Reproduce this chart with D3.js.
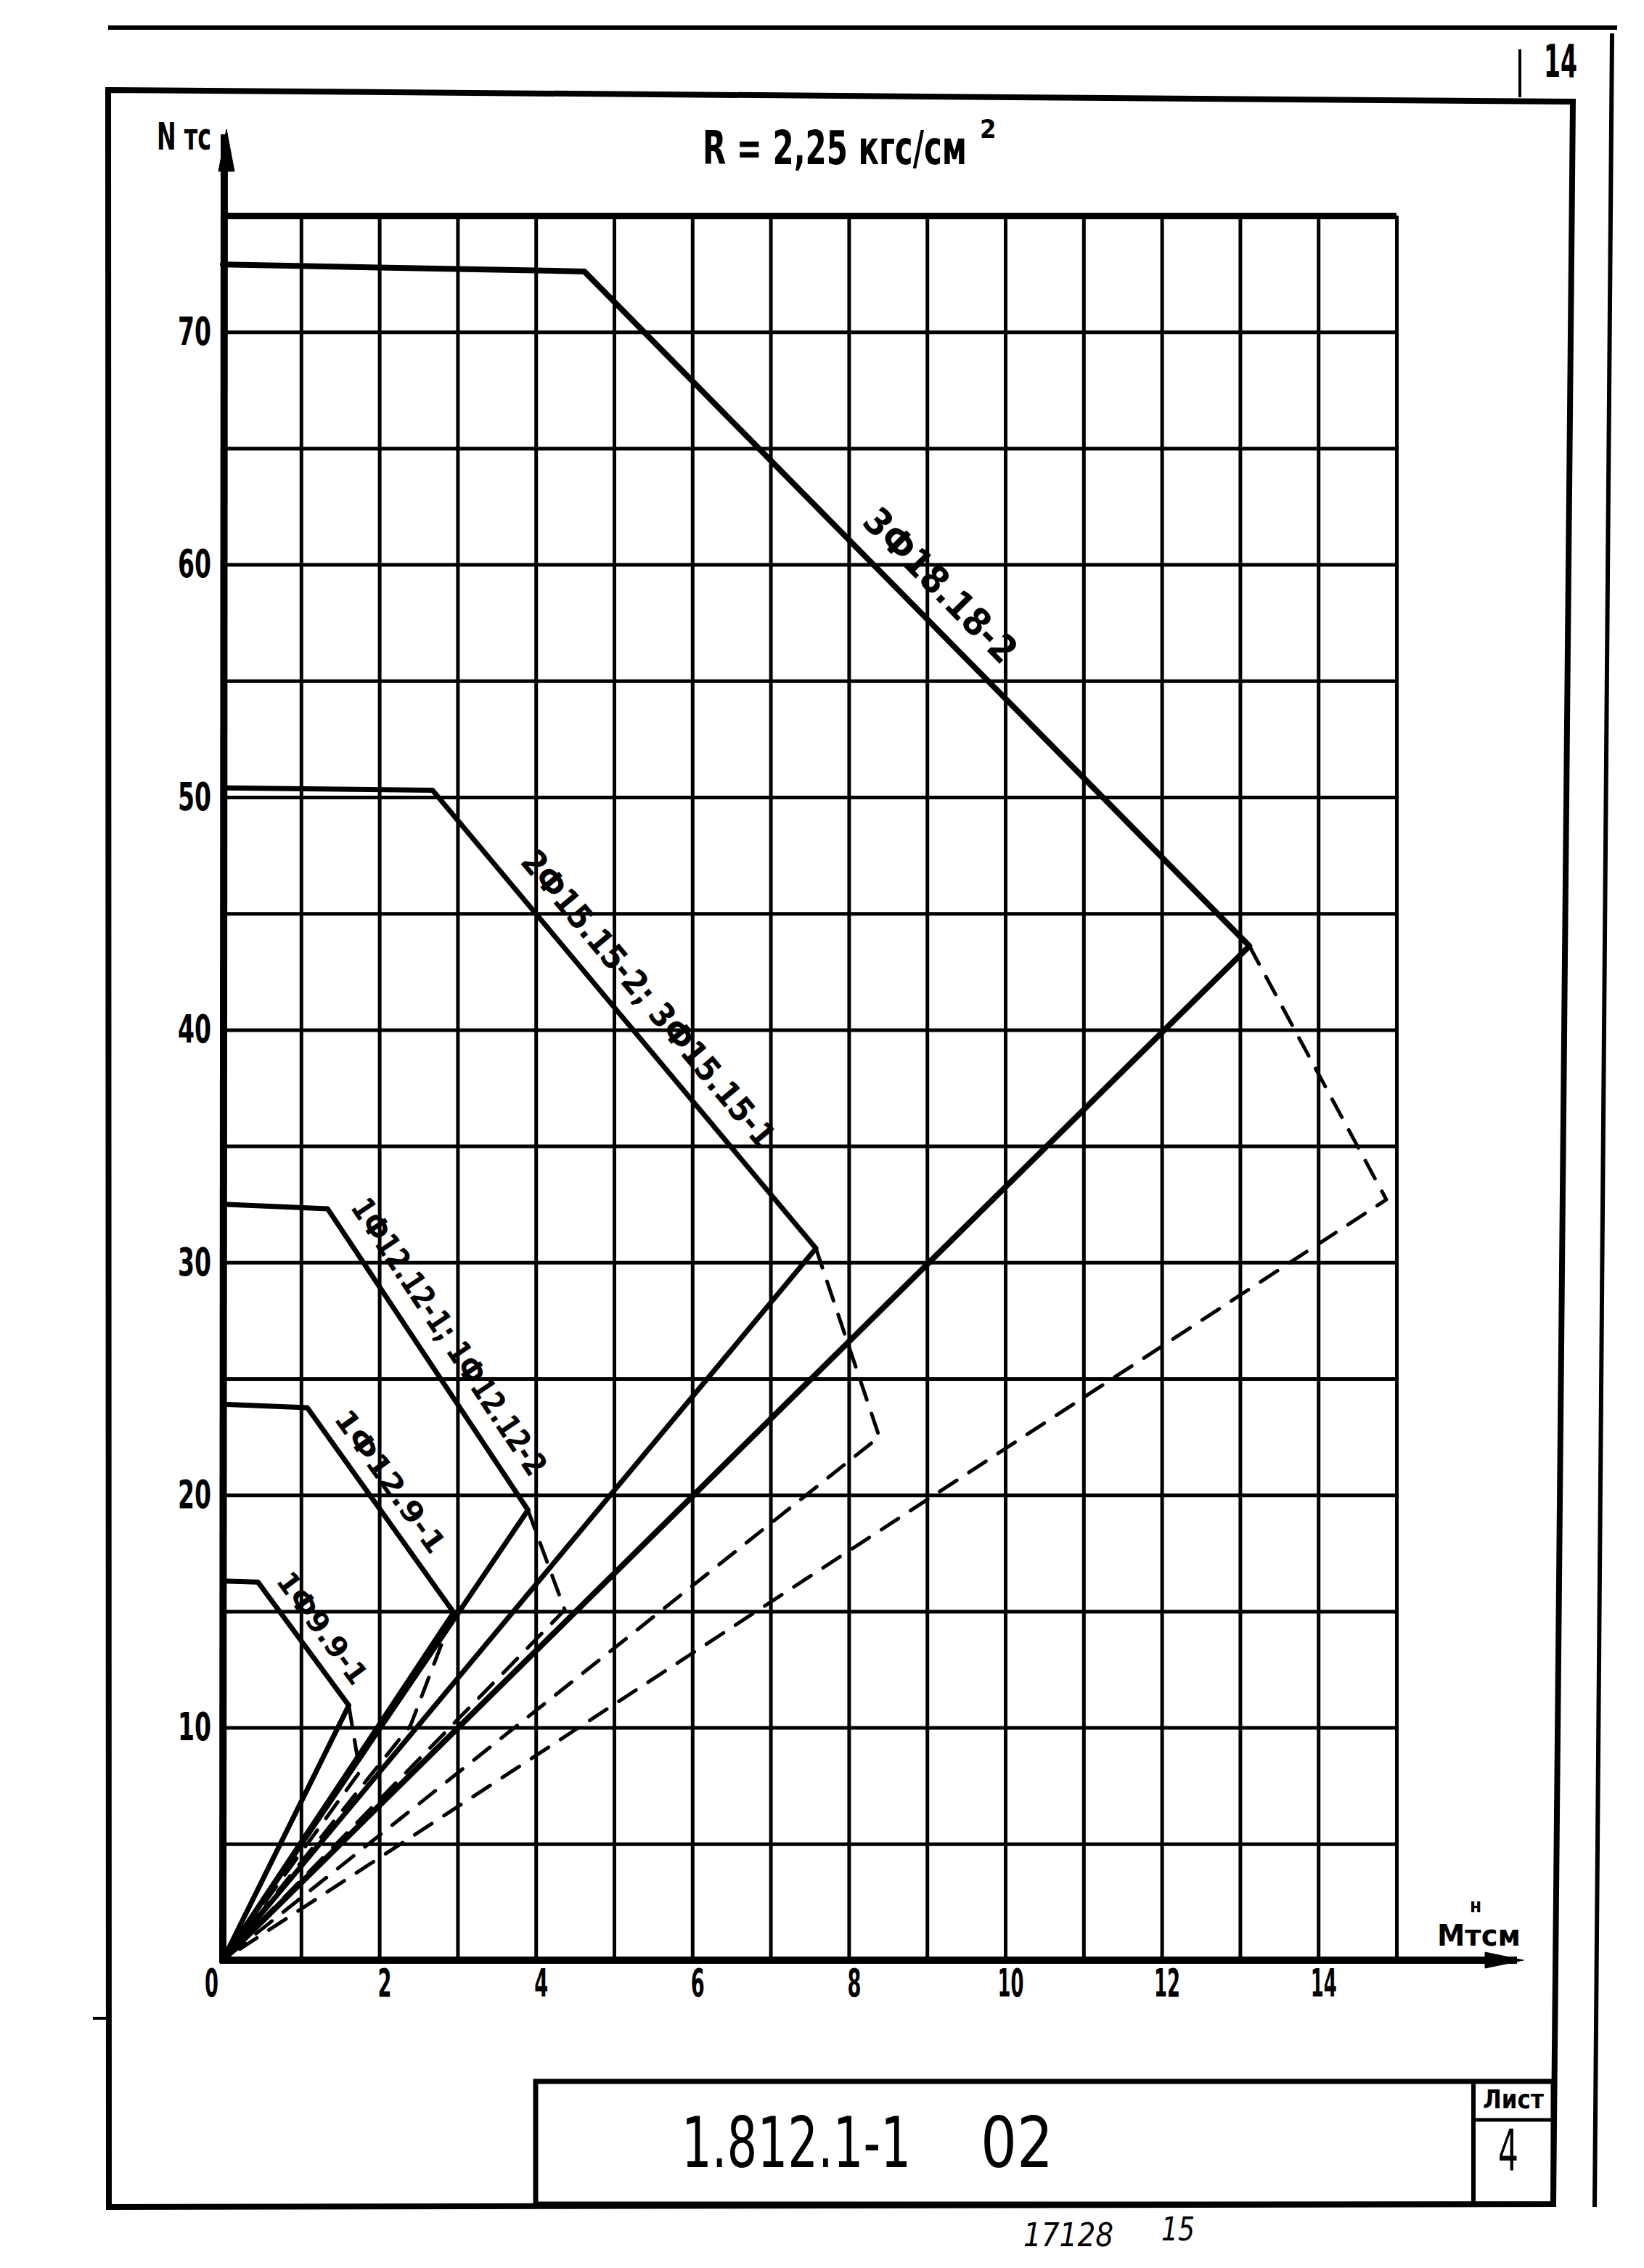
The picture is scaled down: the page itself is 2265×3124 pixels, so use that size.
<!DOCTYPE html>
<html><head><meta charset="utf-8">
<script src="https://cdn.jsdelivr.net/npm/d3@7"></script>
<style>body{margin:0;background:#fff}svg{display:block}</style>
</head><body>
<svg id="c" width="2265" height="3124"></svg>
<script>
// ---------- data ----------
const xTicks = [0, 2, 4, 6, 8, 10, 12, 14];
const yTicks = [10, 20, 30, 40, 50, 60, 70];
const xGridValues = [1, 2, 3, 4, 5, 6, 7, 8, 9, 10, 11, 12, 13, 14, 15];
const yGridValues = [5, 10, 15, 20, 25, 30, 35, 40, 45, 50, 55, 60, 65, 70, 75];
const seriesLabels = ["1Ф9.9-1", "1Ф12.9-1", "1Ф12.12-1; 1Ф12.12-2", "2Ф15.15-2; 3Ф15.15-1", "3Ф18.18-2"];
// [M, N] points
const solid1 = [[0, 16.3], [0.45, 16.25], [1.61, 10.95], [0, 0]];
const dashed1 = [[1.61, 10.95], [1.75, 8.1], [0, 0]];
const solid2 = [[0, 23.9], [1.08, 23.75], [2.95, 14.95], [0, 0]];
const dashed2 = [[2.95, 14.95], [2.4, 10.1], [0, 0]];
const solid3 = [[0, 32.5], [1.34, 32.3], [3.9, 19.35], [0, 0]];
const dashed3 = [[3.9, 19.35], [4.37, 15.06], [0, 0]];
const solid4 = [[0, 50.4], [2.68, 50.3], [7.58, 30.6], [0, 0]];
const dashed4 = [[7.58, 30.6], [8.39, 22.5], [0, 0]];
const solid5 = [[0, 72.9], [4.62, 72.6], [13.12, 43.6], [0, 0]];
const dashed5 = [[13.12, 43.6], [14.87, 32.7], [0, 0]];
const solids = [solid1, solid2, solid3, solid4, solid5];
const dashes = [dashed1, dashed2, dashed3, dashed4, dashed5];

// ---------- label styling ----------
const labelT = [0.49, 0.43, 0.48, 0.50, 0.50];
const labelOff = [34, 34, 42, 44, 46];
const labelSize = [40, 40, 44, 46, 52];
const labelLen = [181, 232, 448, 517, 276];

const F = "'Liberation Sans Narrow','DejaVu Sans Condensed','Liberation Sans',sans-serif";
const svg = d3.select("#c");
const x = d3.scaleLinear().domain([0, 15]).range([307, 1924]);
const y = d3.scaleLinear().domain([0, 75]).range([2700, 297]);

// ---------- page frame ----------
const page = svg.append("g").attr("stroke", "#000").attr("fill", "none");
page.append("line").attr("x1", 149).attr("y1", 38).attr("x2", 2228).attr("y2", 38).attr("stroke-width", 6);
page.append("path").attr("d", "M149,124 L2167,140 L2140,3036 L150,3040 Z").attr("stroke-width", 8);
page.append("line").attr("x1", 2221).attr("y1", 46).attr("x2", 2197).attr("y2", 3040).attr("stroke-width", 6);
page.append("line").attr("x1", 2094).attr("y1", 68).attr("x2", 2094).attr("y2", 134).attr("stroke-width", 4);
page.append("line").attr("x1", 128).attr("y1", 2780).attr("x2", 150).attr("y2", 2780).attr("stroke-width", 4);
// title block
page.append("rect").attr("x", 738).attr("y", 2867).attr("width", 1402).attr("height", 169).attr("stroke-width", 7);
page.append("line").attr("x1", 2030).attr("y1", 2867).attr("x2", 2030).attr("y2", 3036).attr("stroke-width", 6);
page.append("line").attr("x1", 2030).attr("y1", 2920).attr("x2", 2140).attr("y2", 2920).attr("stroke-width", 5);

const txt = svg.append("g").attr("fill", "#000").attr("font-family", F);
txt.append("text").attr("x", 2150).attr("y", 106).attr("text-anchor", "middle")
  .attr("font-size", 62).attr("font-weight", "bold").attr("textLength", 46).attr("lengthAdjust", "spacingAndGlyphs").text("14");
txt.append("text").attr("x", 939).attr("y", 2985).attr("font-size", 96)
  .attr("textLength", 316).attr("lengthAdjust", "spacingAndGlyphs").text("1.812.1-1");
txt.append("text").attr("x", 1351).attr("y", 2985).attr("font-size", 96)
  .attr("textLength", 100).attr("lengthAdjust", "spacingAndGlyphs").text("02");
txt.append("text").attr("x", 2085).attr("y", 2904).attr("text-anchor", "middle").attr("font-size", 36)
  .attr("font-weight", "bold").attr("textLength", 84).attr("lengthAdjust", "spacingAndGlyphs").text("Лист");
txt.append("text").attr("x", 2078).attr("y", 2990).attr("text-anchor", "middle").attr("font-size", 78)
  .attr("textLength", 28).attr("lengthAdjust", "spacingAndGlyphs").text("4");
txt.append("text").attr("x", 1410).attr("y", 3094).attr("font-size", 44).attr("font-style", "italic")
  .attr("textLength", 124).attr("lengthAdjust", "spacingAndGlyphs").text("17128");
txt.append("text").attr("x", 1600).attr("y", 3086).attr("font-size", 44).attr("font-style", "italic")
  .attr("textLength", 46).attr("lengthAdjust", "spacingAndGlyphs").text("15");

// ---------- grid ----------
const gV = svg.append("g").attr("transform", `translate(0,${y(0)})`)
  .call(d3.axisBottom(x).tickValues(xGridValues).tickSize(-(y(0) - y(75))).tickFormat(""));
gV.select(".domain").remove();
gV.selectAll("line").attr("stroke", "#000").attr("stroke-width", 5);
const gH = svg.append("g").attr("transform", `translate(${x(0)},0)`)
  .call(d3.axisLeft(y).tickValues(yGridValues).tickSize(-(x(15) - x(0))).tickFormat(""));
gH.select(".domain").remove();
gH.selectAll("line").attr("stroke", "#000").attr("stroke-width", d => d === 75 ? 9 : 5);

// ---------- axes ----------
const ax = svg.append("g").attr("stroke", "#000");
ax.append("line").attr("x1", x(0)).attr("y1", y(0) + 4).attr("x2", 309).attr("y2", 185).attr("stroke-width", 10);
ax.append("path").attr("d", "M312,178 L301,236 L323,236 Z").attr("fill", "#000");
ax.append("line").attr("x1", x(0) - 4).attr("y1", y(0)).attr("x2", 2090).attr("y2", y(0)).attr("stroke-width", 10);
ax.append("path").attr("d", `M2099,${y(0)} L2046,${y(0) - 11} L2046,${y(0) + 11} Z`).attr("fill", "#000");

const xl = svg.append("g").attr("transform", `translate(0,${y(0)})`)
  .call(d3.axisBottom(x).tickValues(xTicks).tickSize(0).tickPadding(12).tickFormat(d3.format("d")));
xl.select(".domain").remove();
xl.selectAll("text").attr("font-family", F).attr("font-size", 54).attr("font-weight", "bold").attr("fill", "#000")
  .attr("dx", d => d === 0 ? -16 : 7)
  .attr("textLength", d => d >= 10 ? 36 : 19).attr("lengthAdjust", "spacingAndGlyphs");
const yl = svg.append("g").attr("transform", `translate(${x(0)},0)`)
  .call(d3.axisLeft(y).tickValues(yTicks).tickSize(0).tickPadding(16).tickFormat(d3.format("d")));
yl.select(".domain").remove();
yl.selectAll("text").attr("font-family", F).attr("font-size", 54).attr("font-weight", "bold").attr("fill", "#000")
  .attr("textLength", 46).attr("lengthAdjust", "spacingAndGlyphs");

// axis titles and chart title
txt.append("text").attr("x", 216).attr("y", 206).attr("font-size", 52).attr("font-weight", "bold")
  .attr("textLength", 75).attr("lengthAdjust", "spacingAndGlyphs").text("N тс");
txt.append("text").attr("x", 2033).attr("y", 2634).attr("text-anchor", "middle").attr("font-size", 26)
  .attr("font-weight", "bold").text("н");
txt.append("text").attr("x", 1980).attr("y", 2680).attr("font-size", 40).attr("font-weight", "bold")
  .attr("textLength", 115).attr("lengthAdjust", "spacingAndGlyphs").text("Mтсм");
const title = txt.append("text").attr("x", 968).attr("y", 226).attr("font-size", 64).attr("font-weight", "bold");
title.append("tspan").attr("textLength", 364).attr("lengthAdjust", "spacingAndGlyphs").text("R = 2,25 кгс/см");
title.append("tspan").attr("dx", 18).attr("dy", -36).attr("font-size", 36).text("2");

// ---------- curves ----------
const line = d3.line().x(d => x(d[0])).y(d => y(d[1]));
const curves = svg.append("g").attr("fill", "none").attr("stroke", "#000")
  .attr("stroke-linejoin", "round").attr("stroke-linecap", "round");
curves.selectAll("path.dash").data(dashes).join("path").attr("class", "dash")
  .attr("d", line).attr("stroke-width", 5).attr("stroke-dasharray", "28,20");
curves.selectAll("path.solid").data(solids).join("path").attr("class", "solid")
  .attr("d", line).attr("stroke-width", (d, i) => i === 4 ? 8 : 7);

// ---------- labels ----------
solids.forEach((s, i) => {
  const p1 = [x(s[1][0]), y(s[1][1])], p2 = [x(s[2][0]), y(s[2][1])];
  const dx = p2[0] - p1[0], dy = p2[1] - p1[1], L = Math.hypot(dx, dy);
  const ux = dx / L, uy = dy / L, nx = uy, ny = -ux;
  const cx = p1[0] + dx * labelT[i] + nx * labelOff[i];
  const cy = p1[1] + dy * labelT[i] + ny * labelOff[i];
  const ang = Math.atan2(dy, dx) * 180 / Math.PI;
  txt.append("text").attr("transform", `translate(${cx},${cy}) rotate(${ang})`)
    .attr("text-anchor", "middle").attr("dy", "0.35em").attr("font-size", labelSize[i]).attr("font-weight", "bold")
    .attr("textLength", labelLen[i]).attr("lengthAdjust", "spacingAndGlyphs").text(seriesLabels[i]);
});
</script>
</body></html>
